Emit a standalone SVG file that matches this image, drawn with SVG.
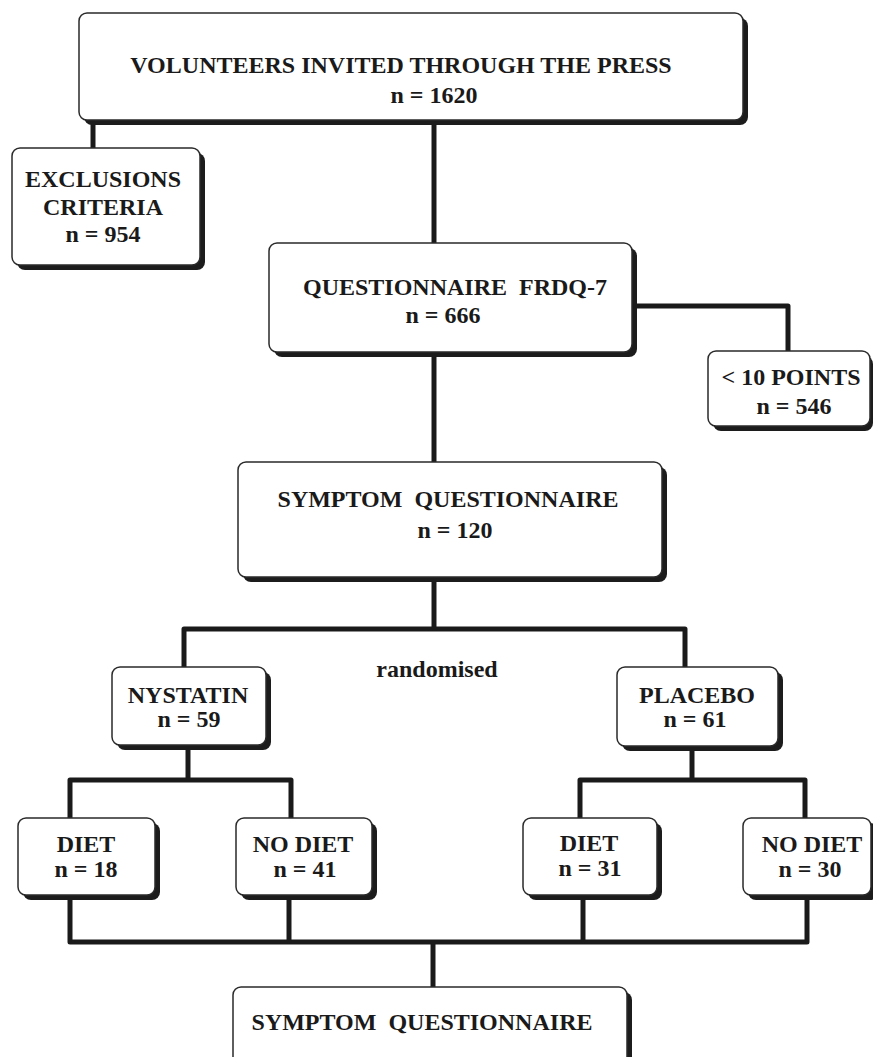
<svg xmlns="http://www.w3.org/2000/svg" width="873" height="1057" viewBox="0 0 873 1057">
<style>
.sh{fill:#1c1c1c}
.bx{fill:#fff;stroke:#2a2a2a;stroke-width:1.5}
.t{font-family:"Liberation Serif","Times New Roman",serif;font-weight:bold;font-size:24px;fill:#1a1a1a;text-anchor:middle}
.c{fill:none;stroke:#1a1a1a;stroke-width:5;stroke-linejoin:round;stroke-linecap:butt}
</style>
<rect width="873" height="1057" fill="#fff"/>
<g id="connectors">
<path class="c" d="M93,120 V148"/>
<path class="c" d="M434,120 V243"/>
<path class="c" d="M632,306 H788 V351"/>
<path class="c" d="M434,352 V462"/>
<path class="c" d="M434,577 V629"/>
<path class="c" d="M184,667 V629 H685 V667"/>
<path class="c" d="M188,745 V780"/>
<path class="c" d="M70,818 V780 H291 V818"/>
<path class="c" d="M692,745 V780"/>
<path class="c" d="M580,818 V780 H805 V818"/>
<path class="c" d="M70,895 V942 H807 V895"/>
<path class="c" d="M289,895 V942"/>
<path class="c" d="M583,895 V942"/>
<path class="c" d="M433,942 V987"/>
</g>
<g id="volunteers">
<rect class="sh" x="84" y="18" width="664" height="107" rx="8"/>
<rect class="bx" x="79" y="13" width="664" height="107" rx="8"/>
<text class="t" x="401" y="73">VOLUNTEERS INVITED THROUGH THE PRESS</text>
<text class="t" x="434" y="103">n = 1620</text>
</g>
<g id="exclusions">
<rect class="sh" x="17" y="153" width="188" height="117" rx="8"/>
<rect class="bx" x="12" y="148" width="188" height="117" rx="8"/>
<text class="t" x="103" y="187">EXCLUSIONS</text>
<text class="t" x="103" y="215">CRITERIA</text>
<text class="t" x="103" y="242">n = 954</text>
</g>
<g id="frdq">
<rect class="sh" x="274" y="248" width="363" height="109" rx="8"/>
<rect class="bx" x="269" y="243" width="363" height="109" rx="8"/>
<text class="t" x="455" y="295" xml:space="preserve">QUESTIONNAIRE  FRDQ-7</text>
<text class="t" x="443" y="323">n = 666</text>
</g>
<g id="points">
<rect class="sh" x="713" y="356" width="160" height="75" rx="8"/>
<rect class="bx" x="708" y="351" width="162" height="75" rx="8"/>
<text class="t" x="791" y="385">&lt; 10 POINTS</text>
<text class="t" x="794" y="414">n = 546</text>
</g>
<g id="symptom1">
<rect class="sh" x="243" y="467" width="424" height="115" rx="8"/>
<rect class="bx" x="238" y="462" width="424" height="115" rx="8"/>
<text class="t" x="448" y="507" xml:space="preserve">SYMPTOM  QUESTIONNAIRE</text>
<text class="t" x="455" y="538">n = 120</text>
</g>
<g id="randomised">
<text class="t" x="437" y="677">randomised</text>
</g>
<g id="nystatin">
<rect class="sh" x="117" y="672" width="154" height="78" rx="8"/>
<rect class="bx" x="112" y="667" width="154" height="78" rx="8"/>
<text class="t" x="188" y="703">NYSTATIN</text>
<text class="t" x="189" y="727">n = 59</text>
</g>
<g id="placebo">
<rect class="sh" x="622" y="672" width="161" height="79" rx="8"/>
<rect class="bx" x="617" y="667" width="161" height="79" rx="8"/>
<text class="t" x="697" y="703">PLACEBO</text>
<text class="t" x="695" y="727">n = 61</text>
</g>
<g id="diet1">
<rect class="sh" x="23" y="823" width="137" height="77" rx="8"/>
<rect class="bx" x="18" y="818" width="137" height="77" rx="8"/>
<text class="t" x="86" y="852">DIET</text>
<text class="t" x="86" y="877">n = 18</text>
</g>
<g id="nodiet1">
<rect class="sh" x="241" y="823" width="136" height="77" rx="8"/>
<rect class="bx" x="236" y="818" width="136" height="77" rx="8"/>
<text class="t" x="303" y="852">NO DIET</text>
<text class="t" x="305" y="877">n = 41</text>
</g>
<g id="diet2">
<rect class="sh" x="528" y="823" width="134" height="77" rx="8"/>
<rect class="bx" x="523" y="818" width="134" height="77" rx="8"/>
<text class="t" x="589" y="851">DIET</text>
<text class="t" x="590" y="876">n = 31</text>
</g>
<g id="nodiet2">
<rect class="sh" x="748" y="823" width="130" height="77" rx="8"/>
<rect class="bx" x="743" y="818" width="128" height="77" rx="8"/>
<text class="t" x="812" y="852">NO DIET</text>
<text class="t" x="810" y="877">n = 30</text>
</g>
<g id="symptom2">
<rect class="sh" x="238" y="992" width="394" height="80" rx="8"/>
<rect class="bx" x="233" y="987" width="394" height="80" rx="8"/>
<text class="t" x="422" y="1030" xml:space="preserve">SYMPTOM  QUESTIONNAIRE</text>
</g>
</svg>
